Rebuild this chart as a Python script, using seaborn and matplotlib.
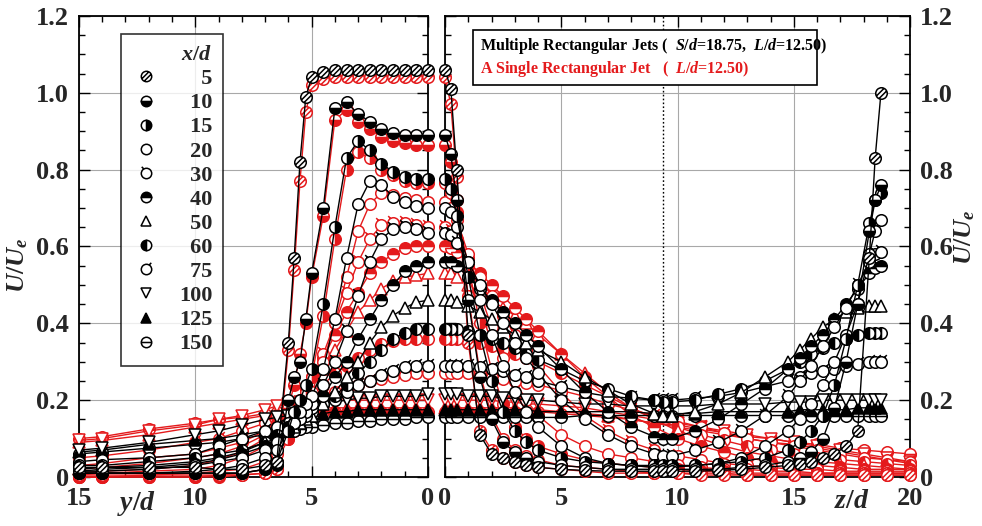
import numpy as np
import pandas as pd
import matplotlib
matplotlib.use("Agg")
import matplotlib.pyplot as plt
import seaborn as sns
from matplotlib.path import Path
from matplotlib.lines import Line2D
from matplotlib.patches import Rectangle
from matplotlib.ticker import MultipleLocator

sns.set_style("white")
plt.rcParams['font.family'] = ['Liberation Serif', 'DejaVu Serif']
plt.rcParams['font.weight'] = 'bold'
plt.rcParams['mathtext.fontset'] = 'custom'
plt.rcParams['mathtext.rm'] = 'Liberation Serif:bold'
plt.rcParams['mathtext.it'] = 'Liberation Serif:italic:bold'
plt.rcParams['mathtext.bf'] = 'Liberation Serif:bold'

# ---------------- data ----------------
XD = [5, 10, 15, 20, 30, 40, 50, 60, 75, 100, 125, 150]

# left panel, y/d positions
y_left = [15, 14, 12, 10, 9, 8, 7, 6.5, 6, 5.75, 5.5, 5.25, 5, 4.5, 4, 3.5, 3, 2.5, 2, 1.5, 1, 0.5, 0]

# multiple jets (black), left panel
ml5 = [0.025, 0.025, 0.025, 0.025, 0.02, 0.02, 0.03, 0.04, 0.35, 0.57, 0.82, 0.99, 1.04, 1.055, 1.06, 1.06, 1.06, 1.06, 1.06, 1.06, 1.06, 1.06, 1.06]
ml10 = [0.01, 0.01, 0.01, 0.01, 0.01, 0.01, 0.02, 0.03, 0.20, 0.26, 0.30, 0.41, 0.53, 0.70, 0.96, 0.975, 0.945, 0.925, 0.905, 0.895, 0.89, 0.89, 0.89]
ml15 = [0.01, 0.01, 0.01, 0.01, 0.01, 0.01, 0.02, 0.04, 0.12, 0.17, 0.20, 0.24, 0.28, 0.45, 0.65, 0.83, 0.875, 0.85, 0.815, 0.795, 0.78, 0.775, 0.775]
ml20 = [0.01, 0.01, 0.01, 0.015, 0.02, 0.03, 0.05, 0.07, 0.12, 0.14, 0.17, 0.19, 0.21, 0.28, 0.41, 0.57, 0.71, 0.77, 0.76, 0.73, 0.715, 0.705, 0.70]
ml30 = [0.015, 0.015, 0.02, 0.03, 0.04, 0.05, 0.07, 0.09, 0.12, 0.14, 0.15, 0.17, 0.19, 0.24, 0.30, 0.38, 0.47, 0.56, 0.62, 0.645, 0.65, 0.645, 0.635]
ml40 = [0.015, 0.02, 0.025, 0.035, 0.045, 0.06, 0.08, 0.10, 0.13, 0.14, 0.15, 0.16, 0.18, 0.21, 0.26, 0.30, 0.36, 0.41, 0.46, 0.50, 0.535, 0.55, 0.56]
ml50 = [0.02, 0.025, 0.03, 0.04, 0.05, 0.065, 0.09, 0.10, 0.12, 0.13, 0.14, 0.15, 0.16, 0.19, 0.22, 0.26, 0.30, 0.35, 0.39, 0.42, 0.44, 0.455, 0.46]
ml60 = [0.03, 0.03, 0.04, 0.05, 0.06, 0.07, 0.09, 0.11, 0.13, 0.14, 0.15, 0.16, 0.17, 0.19, 0.21, 0.24, 0.27, 0.30, 0.33, 0.36, 0.375, 0.385, 0.385]
ml75 = [0.04, 0.045, 0.05, 0.06, 0.08, 0.10, 0.12, 0.13, 0.14, 0.15, 0.155, 0.16, 0.17, 0.19, 0.20, 0.22, 0.24, 0.25, 0.265, 0.275, 0.285, 0.29, 0.29]
ml100 = [0.07, 0.075, 0.09, 0.11, 0.12, 0.135, 0.15, 0.155, 0.16, 0.165, 0.17, 0.175, 0.18, 0.19, 0.195, 0.20, 0.205, 0.205, 0.21, 0.21, 0.21, 0.21, 0.215]
ml125 = [0.065, 0.07, 0.085, 0.095, 0.10, 0.11, 0.12, 0.13, 0.14, 0.145, 0.15, 0.155, 0.16, 0.165, 0.17, 0.17, 0.175, 0.175, 0.175, 0.175, 0.175, 0.175, 0.175]
ml150 = [0.06, 0.065, 0.075, 0.085, 0.09, 0.10, 0.11, 0.115, 0.12, 0.12, 0.125, 0.13, 0.13, 0.135, 0.14, 0.14, 0.145, 0.145, 0.15, 0.15, 0.15, 0.155, 0.155]

# single jet (red), left panel
sl5 = [0.005, 0.005, 0.005, 0.005, 0.005, 0.005, 0.01, 0.02, 0.33, 0.54, 0.77, 0.95, 1.02, 1.035, 1.04, 1.04, 1.04, 1.04, 1.04, 1.04, 1.04, 1.04, 1.04]
sl10 = [0.0, 0.0, 0.0, 0.0, 0.0, 0.005, 0.01, 0.02, 0.18, 0.24, 0.32, 0.40, 0.52, 0.68, 0.93, 0.955, 0.925, 0.905, 0.885, 0.875, 0.87, 0.865, 0.865]
sl15 = [0.0, 0.0, 0.0, 0.0, 0.005, 0.01, 0.02, 0.04, 0.10, 0.14, 0.18, 0.22, 0.26, 0.42, 0.62, 0.80, 0.845, 0.83, 0.80, 0.785, 0.77, 0.765, 0.765]
sl20 = [0.0, 0.0, 0.005, 0.01, 0.015, 0.02, 0.04, 0.06, 0.10, 0.12, 0.15, 0.18, 0.22, 0.30, 0.40, 0.52, 0.64, 0.71, 0.74, 0.735, 0.725, 0.72, 0.715]
sl30 = [0.005, 0.01, 0.015, 0.02, 0.03, 0.05, 0.08, 0.10, 0.14, 0.16, 0.19, 0.22, 0.25, 0.32, 0.40, 0.48, 0.56, 0.62, 0.655, 0.66, 0.66, 0.655, 0.65]
sl40 = [0.01, 0.015, 0.02, 0.03, 0.045, 0.065, 0.10, 0.12, 0.16, 0.18, 0.20, 0.23, 0.26, 0.31, 0.37, 0.43, 0.48, 0.53, 0.56, 0.58, 0.595, 0.60, 0.60]
sl50 = [0.02, 0.025, 0.035, 0.05, 0.06, 0.08, 0.11, 0.13, 0.16, 0.18, 0.19, 0.21, 0.23, 0.28, 0.33, 0.38, 0.43, 0.46, 0.49, 0.51, 0.52, 0.525, 0.53]
sl60 = [0.03, 0.035, 0.05, 0.06, 0.075, 0.09, 0.12, 0.14, 0.17, 0.18, 0.19, 0.20, 0.21, 0.24, 0.27, 0.29, 0.31, 0.33, 0.345, 0.355, 0.36, 0.36, 0.36]
sl75 = [0.05, 0.055, 0.07, 0.09, 0.10, 0.12, 0.14, 0.16, 0.18, 0.185, 0.19, 0.195, 0.20, 0.21, 0.22, 0.23, 0.24, 0.25, 0.255, 0.26, 0.265, 0.27, 0.27]
sl100 = [0.095, 0.10, 0.12, 0.135, 0.15, 0.16, 0.175, 0.185, 0.19, 0.19, 0.195, 0.195, 0.195, 0.20, 0.20, 0.20, 0.20, 0.20, 0.20, 0.20, 0.20, 0.20, 0.20]
sl125 = [0.09, 0.095, 0.11, 0.13, 0.14, 0.15, 0.16, 0.17, 0.175, 0.175, 0.18, 0.18, 0.18, 0.18, 0.18, 0.18, 0.18, 0.18, 0.18, 0.18, 0.18, 0.18, 0.18]
sl150 = [0.10, 0.105, 0.125, 0.14, 0.15, 0.155, 0.165, 0.17, 0.17, 0.17, 0.17, 0.17, 0.17, 0.17, 0.17, 0.17, 0.17, 0.17, 0.17, 0.17, 0.17, 0.17, 0.17]

# right panel, z/d positions (multiple jets measured up to the next jet at 18.75)
z_multi = [0, 0.25, 0.5, 1, 1.5, 2, 2.5, 3, 3.5, 4, 5, 6, 7, 8, 9, 9.375,
           9.75, 10.75, 11.75, 12.75, 13.75, 14.75, 15.25, 15.75, 16.25, 16.75, 17.25, 17.75, 18.25, 18.5, 18.75]
mr5 = [1.06, 1.01, 0.80, 0.37, 0.11, 0.06, 0.05, 0.04, 0.03, 0.025, 0.02, 0.017, 0.015, 0.015, 0.015, 0.015,
       0.015, 0.015, 0.017, 0.02, 0.025, 0.03, 0.035, 0.04, 0.05, 0.06, 0.08, 0.12, 0.57, 0.83, 1.00]
mr10 = [0.89, 0.84, 0.72, 0.46, 0.26, 0.15, 0.09, 0.065, 0.05, 0.04, 0.03, 0.025, 0.02, 0.02, 0.02, 0.02,
        0.02, 0.02, 0.02, 0.025, 0.03, 0.04, 0.05, 0.065, 0.10, 0.18, 0.30, 0.45, 0.64, 0.72, 0.76]
mr15 = [0.775, 0.75, 0.68, 0.52, 0.37, 0.25, 0.17, 0.12, 0.09, 0.07, 0.05, 0.04, 0.035, 0.03, 0.03, 0.03,
        0.03, 0.03, 0.035, 0.04, 0.05, 0.07, 0.09, 0.12, 0.16, 0.24, 0.36, 0.50, 0.66, 0.72, 0.74]
mr20 = [0.70, 0.69, 0.65, 0.56, 0.46, 0.37, 0.29, 0.22, 0.17, 0.13, 0.08, 0.05, 0.035, 0.03, 0.025, 0.025,
        0.025, 0.03, 0.035, 0.05, 0.08, 0.12, 0.15, 0.19, 0.24, 0.30, 0.37, 0.45, 0.58, 0.64, 0.67]
mr30 = [0.635, 0.63, 0.61, 0.56, 0.50, 0.45, 0.40, 0.35, 0.31, 0.27, 0.20, 0.15, 0.11, 0.08, 0.06, 0.055,
        0.055, 0.07, 0.09, 0.12, 0.16, 0.21, 0.25, 0.29, 0.34, 0.39, 0.44, 0.50, 0.56, 0.58, 0.585]
mr40 = [0.56, 0.56, 0.55, 0.52, 0.49, 0.46, 0.43, 0.40, 0.37, 0.34, 0.28, 0.22, 0.17, 0.13, 0.105, 0.10,
        0.10, 0.12, 0.15, 0.19, 0.23, 0.28, 0.31, 0.34, 0.37, 0.41, 0.45, 0.49, 0.53, 0.545, 0.55]
mr50 = [0.46, 0.46, 0.455, 0.445, 0.43, 0.41, 0.39, 0.37, 0.35, 0.33, 0.30, 0.26, 0.225, 0.19, 0.165, 0.16,
        0.16, 0.17, 0.19, 0.22, 0.26, 0.30, 0.33, 0.36, 0.39, 0.41, 0.43, 0.44, 0.445, 0.445, 0.445]
mr60 = [0.385, 0.385, 0.385, 0.38, 0.37, 0.36, 0.35, 0.335, 0.32, 0.305, 0.28, 0.25, 0.23, 0.21, 0.20, 0.195,
        0.195, 0.20, 0.215, 0.23, 0.25, 0.28, 0.30, 0.32, 0.335, 0.35, 0.36, 0.37, 0.375, 0.375, 0.375]
mr75 = [0.29, 0.29, 0.29, 0.29, 0.285, 0.28, 0.275, 0.265, 0.26, 0.25, 0.235, 0.22, 0.21, 0.205, 0.20, 0.20,
        0.20, 0.205, 0.21, 0.22, 0.235, 0.25, 0.26, 0.27, 0.275, 0.28, 0.29, 0.295, 0.30, 0.30, 0.30]
mr100 = [0.215, 0.215, 0.215, 0.21, 0.21, 0.21, 0.205, 0.205, 0.20, 0.20, 0.195, 0.19, 0.19, 0.185, 0.185, 0.185,
         0.185, 0.185, 0.19, 0.19, 0.19, 0.195, 0.195, 0.195, 0.20, 0.20, 0.20, 0.20, 0.20, 0.20, 0.20]
mr125 = [0.175, 0.175, 0.175, 0.175, 0.175, 0.175, 0.175, 0.175, 0.175, 0.17, 0.17, 0.17, 0.17, 0.17, 0.165, 0.165,
         0.165, 0.165, 0.17, 0.17, 0.17, 0.17, 0.175, 0.175, 0.175, 0.175, 0.175, 0.18, 0.18, 0.18, 0.18]
mr150 = [0.155, 0.155, 0.155, 0.155, 0.155, 0.155, 0.155, 0.155, 0.155, 0.155, 0.155, 0.16, 0.16, 0.16, 0.16, 0.16,
         0.16, 0.16, 0.16, 0.16, 0.16, 0.16, 0.16, 0.16, 0.16, 0.16, 0.16, 0.16, 0.16, 0.16, 0.16]

# right panel, single jet (red)
z_single = [0, 0.25, 0.5, 1, 1.5, 2, 2.5, 3, 3.5, 4, 5, 6, 7, 8, 9, 10, 11, 12, 13, 14, 15, 16, 17, 18, 19, 20]
sr5 = [1.04, 0.97, 0.78, 0.35, 0.12, 0.07, 0.05, 0.04, 0.03, 0.025, 0.02, 0.015, 0.01, 0.01, 0.01, 0.01, 0.005, 0.005, 0.005, 0.005, 0.005, 0.005, 0.005, 0.005, 0.005, 0.005]
sr10 = [0.865, 0.82, 0.72, 0.47, 0.27, 0.16, 0.10, 0.07, 0.055, 0.045, 0.03, 0.025, 0.02, 0.015, 0.01, 0.01, 0.01, 0.01, 0.005, 0.005, 0.005, 0.005, 0.005, 0.005, 0.005, 0.005]
sr15 = [0.765, 0.74, 0.69, 0.55, 0.40, 0.28, 0.19, 0.13, 0.10, 0.08, 0.06, 0.045, 0.035, 0.03, 0.025, 0.02, 0.015, 0.015, 0.01, 0.01, 0.01, 0.01, 0.01, 0.01, 0.01, 0.01]
sr20 = [0.715, 0.70, 0.67, 0.58, 0.48, 0.39, 0.31, 0.25, 0.20, 0.16, 0.11, 0.08, 0.06, 0.05, 0.04, 0.03, 0.025, 0.02, 0.02, 0.015, 0.015, 0.01, 0.01, 0.01, 0.01, 0.01]
sr30 = [0.65, 0.64, 0.62, 0.57, 0.52, 0.47, 0.42, 0.37, 0.33, 0.29, 0.22, 0.16, 0.12, 0.09, 0.07, 0.055, 0.045, 0.035, 0.03, 0.025, 0.02, 0.02, 0.015, 0.015, 0.015, 0.015]
sr40 = [0.60, 0.595, 0.585, 0.56, 0.53, 0.50, 0.47, 0.44, 0.41, 0.38, 0.32, 0.26, 0.21, 0.16, 0.13, 0.10, 0.08, 0.065, 0.05, 0.04, 0.035, 0.03, 0.025, 0.02, 0.02, 0.02]
sr50 = [0.53, 0.53, 0.52, 0.50, 0.48, 0.46, 0.44, 0.42, 0.40, 0.37, 0.32, 0.27, 0.22, 0.18, 0.15, 0.12, 0.10, 0.08, 0.065, 0.055, 0.045, 0.04, 0.035, 0.03, 0.025, 0.02]
sr60 = [0.36, 0.36, 0.36, 0.355, 0.35, 0.34, 0.33, 0.32, 0.31, 0.30, 0.27, 0.24, 0.21, 0.18, 0.155, 0.13, 0.11, 0.095, 0.08, 0.07, 0.06, 0.05, 0.045, 0.04, 0.035, 0.03]
sr75 = [0.27, 0.27, 0.27, 0.27, 0.265, 0.26, 0.255, 0.25, 0.245, 0.24, 0.225, 0.21, 0.19, 0.175, 0.16, 0.145, 0.13, 0.115, 0.10, 0.09, 0.08, 0.07, 0.06, 0.05, 0.045, 0.04]
sr100 = [0.20, 0.20, 0.20, 0.20, 0.20, 0.20, 0.195, 0.195, 0.19, 0.19, 0.185, 0.18, 0.17, 0.16, 0.15, 0.14, 0.13, 0.12, 0.11, 0.10, 0.09, 0.08, 0.07, 0.06, 0.05, 0.04]
sr125 = [0.18, 0.18, 0.18, 0.18, 0.18, 0.18, 0.18, 0.18, 0.175, 0.175, 0.17, 0.165, 0.16, 0.15, 0.14, 0.13, 0.12, 0.11, 0.10, 0.09, 0.085, 0.075, 0.065, 0.055, 0.045, 0.035]
sr150 = [0.17, 0.17, 0.17, 0.17, 0.17, 0.17, 0.17, 0.17, 0.17, 0.17, 0.165, 0.16, 0.155, 0.15, 0.14, 0.135, 0.125, 0.115, 0.105, 0.10, 0.09, 0.085, 0.075, 0.07, 0.065, 0.06]

multi_left = [ml5, ml10, ml15, ml20, ml30, ml40, ml50, ml60, ml75, ml100, ml125, ml150]
single_left = [sl5, sl10, sl15, sl20, sl30, sl40, sl50, sl60, sl75, sl100, sl125, sl150]
multi_right = [mr5, mr10, mr15, mr20, mr30, mr40, mr50, mr60, mr75, mr100, mr125, mr150]
single_right = [sr5, sr10, sr15, sr20, sr30, sr40, sr50, sr60, sr75, sr100, sr125, sr150]

# ---------------- marker shapes ----------------
def circle_with(segs):
    parts = [Path.unit_circle()] + [Path(s, [Path.MOVETO, Path.LINETO]) for s in segs]
    return Path.make_compound_path(*parts)

hatch = []
for c in (-0.45, 0.45):
    s = np.sqrt(2 - c * c)
    xa, xb = (c - s) / 2, (c + s) / 2
    hatch.append([(xa, xa - c), (xb, xb - c)])
HATCH = circle_with(hatch)
HORN_L = circle_with([[(-0.5, 0.866), (-0.92, 1.28)]])
HORN_R = circle_with([[(0.5, 0.866), (0.92, 1.28)]])
BAR = circle_with([[(-1, 0), (1, 0)]])

MARKERS = [HATCH, 'o', 'o', 'o', HORN_L, 'o', '^', 'o', HORN_R, 'v', '^', BAR]
FILLS = ['open', 'bottom', 'right', 'open', 'open', 'top', 'open', 'left', 'open', 'open', 'full', 'open']
SIZE = [1, 1, 1, 1, 1.28, 1, 1, 1, 1.28, 1, 1, 1]
RED = '#e41a1c'


def marker_kw(i, col, ms):
    kw = dict(marker=MARKERS[i], markersize=ms * SIZE[i], markeredgewidth=1.1, markeredgecolor=col)
    if FILLS[i] == 'open':
        kw['markerfacecolor'] = 'white'
    elif FILLS[i] == 'full':
        kw['markerfacecolor'] = col
    else:
        kw.update(fillstyle=FILLS[i], markerfacecolor=col, markerfacecoloralt='white')
    return kw


def draw(ax, xs, series, col, z):
    for i in reversed(range(len(XD))):
        sns.lineplot(x=xs, y=series[i], ax=ax, color=col, lw=1.0, errorbar=None,
                     clip_on=False, zorder=z, **marker_kw(i, col, 8.3))


fig = plt.figure(figsize=(9.82, 5.26), dpi=100)
ax1 = fig.add_axes([0.0804, 0.0932, 0.3554, 0.8764])
ax2 = fig.add_axes([0.4532, 0.0932, 0.4735, 0.8764])

draw(ax1, y_left, single_left, RED, 3)
draw(ax1, y_left, multi_left, 'k', 4)
draw(ax2, z_single, single_right, RED, 3)
draw(ax2, z_multi, multi_right, 'k', 4)

yt = [0, 0.2, 0.4, 0.6, 0.8, 1.0, 1.2]
ytl = ['0', '0.2', '0.4', '0.6', '0.8', '1.0', '1.2']
for ax in (ax1, ax2):
    ax.set_ylim(0, 1.2)
    ax.set_yticks(yt)
    ax.set_yticklabels(ytl)
    ax.yaxis.set_minor_locator(MultipleLocator(0.05))
    ax.xaxis.set_minor_locator(MultipleLocator(1))
    ax.grid(True, which='major', color='#a8a8a8', lw=0.8)
    ax.tick_params(which='both', direction='in', top=True, right=True, left=True, bottom=True,
                   labelsize=19, color='k', width=1.0)
    ax.tick_params(which='major', length=8)
    ax.tick_params(which='minor', length=4.5)
    ax.tick_params(axis='y', pad=7)
    ax.tick_params(axis='x', pad=7)
    for sp in ax.spines.values():
        sp.set_linewidth(1.3)
        sp.set_color('k')
    ax.set_axisbelow(True)

ax1.set_xlim(15, 0)
ax1.set_xticks([15, 10, 5, 0])
ax1.set_xticklabels(['15', '10', '5', '0'])
ax2.set_xlim(0, 20)
ax2.set_xticks([0, 5, 10, 15, 20])
ax2.set_xticklabels(['0', '5', '10', '15', '20'])
ax2.tick_params(labelleft=False, labelright=True)
for t in ax1.get_xticklabels() + ax1.get_yticklabels() + ax2.get_xticklabels() + ax2.get_yticklabels():
    t.set_fontweight('bold')

ax1.set_xlabel(r'$y/d$', fontsize=20)
ax1.xaxis.set_label_coords(0.166, -0.025)
ax2.set_xlabel(r'$z/d$', fontsize=20)
ax2.xaxis.set_label_coords(0.875, -0.025)
ax1.set_ylabel(r'$U/U_e$', fontsize=19)
ax1.yaxis.set_label_coords(-0.14, 0.46)
ax2.set_ylabel(r'$U/U_e$', fontsize=19)
ax2.yaxis.set_label_position('right')
ax2.yaxis.set_label_coords(1.092, 0.52)

# half-spacing line between jets
ax2.axvline(18.75 / 2, color='k', ls=(0, (1.2, 1.6)), lw=1.0, zorder=2)

# legend (x/d)
handles = [Line2D([], [], ls='none', **marker_kw(i, 'k', 7.5)) for i in range(len(XD))]
labels = ['\u2007\u2007' + str(v) if v < 10 else ('\u2007' + str(v) if v < 100 else str(v)) for v in XD]
leg = ax1.legend(handles, labels, title=r'$x/d$', loc='upper left', bbox_to_anchor=(0.089, 0.985),
                 fontsize=16, title_fontsize=16, frameon=True, fancybox=False, edgecolor='k',
                 labelspacing=0.16, handletextpad=0.9, borderpad=0.5, handlelength=1.2,
                 alignment='right')
leg.get_frame().set_linewidth(1.2)
leg.set_zorder(10)

# jet description box
ax2.add_patch(Rectangle((0.06, 0.85), 0.74, 0.12, transform=ax2.transAxes, facecolor='white',
                        edgecolor='k', lw=1.2, zorder=8))
ax2.text(0.075, 0.935, r'Multiple Rectangular Jets (  $S/d$=18.75,  $L/d$=12.50)', transform=ax2.transAxes,
         fontsize=11.5, color='k', va='center', ha='left', zorder=9)
ax2.text(0.075, 0.885, r'A Single Rectangular Jet   (  $L/d$=12.50)', transform=ax2.transAxes,
         fontsize=11.5, color=RED, va='center', ha='left', zorder=9)

fig.savefig('out.png', dpi=100)
